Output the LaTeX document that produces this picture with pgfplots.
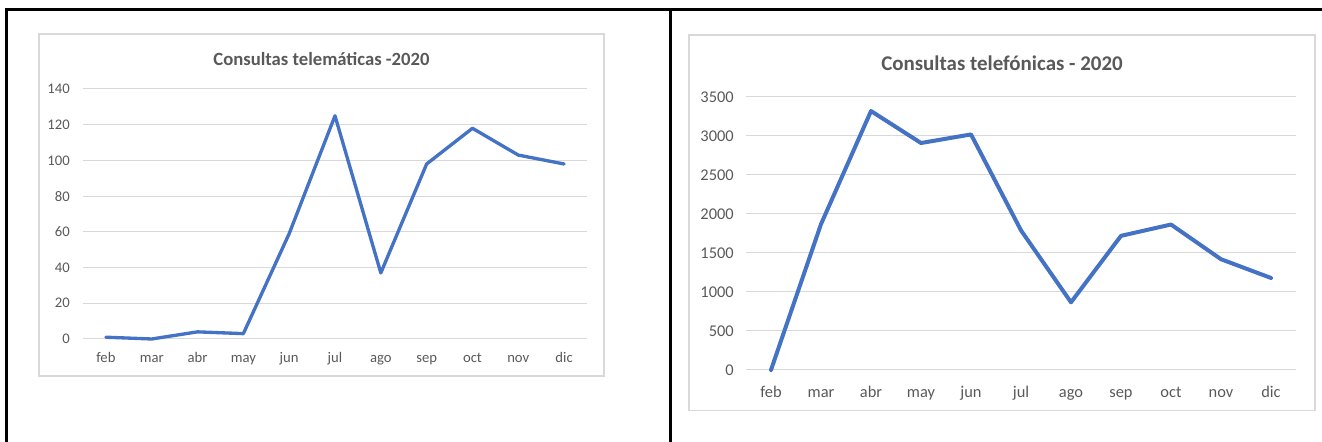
\documentclass[border=0pt]{standalone}
\usepackage{fontspec}
\setmainfont{Carlito}
\usepackage{pgfplots}
\pgfplotsset{compat=1.18}

\definecolor{lineblue}{HTML}{4472C4}
\definecolor{txtgray}{HTML}{595959}
\definecolor{gridgray}{HTML}{D9D9D9}

% estilo comun tipo Excel
\pgfplotsset{excel/.style={
  scale only axis, clip=false,
  xmin=-0.5, xmax=10.5,
  xtick={0,...,10},
  xticklabels={feb,mar,abr,may,jun,jul,ago,sep,oct,nov,dic},
  axis line style={draw=none},
  major tick length=0pt,
  ymajorgrids,
  grid style={gridgray, line width=0.75pt},
  tick label style={text=txtgray, inner sep=0pt},
  /pgf/number format/assume math mode=true,
  /pgf/number format/1000 sep={},
}}

\begin{document}
\begin{tikzpicture}
\path[use as bounding box] (0,0) rectangle (991.5pt,331.5pt);

% marco de la tabla
\draw[black, line width=2.25pt] (4.5pt,0pt) -- (4.5pt,324pt) -- (991.5pt,324pt);
\draw[black, line width=2.25pt] (502.9pt,0pt) -- (502.9pt,324pt);

% marcos de los graficos
\draw[gridgray, line width=1pt] (29.25pt,49.5pt) rectangle (453pt,306pt);
\draw[gridgray, line width=1pt] (516.75pt,23.6pt) rectangle (986.25pt,305.25pt);

% Consultas telematicas
\begin{axis}[excel,
  at={(62.25pt,77.25pt)}, anchor=south west,
  width=378pt, height=187.5pt,
  ymin=0, ymax=140, ytick={0,20,...,140},
  tick label style={font=\fontsize{11}{13}\selectfont},
  xticklabel style={anchor=base, yshift=-17.3pt},
  yticklabel style={anchor=east, xshift=-9.75pt},
  ]
  \addplot[lineblue, line width=2.5pt, line join=round, line cap=round]
    coordinates {(0,1) (1,0) (2,4) (3,3) (4,59) (5,125) (6,37) (7,98) (8,118) (9,103) (10,98)};
\end{axis}
\node[anchor=base, text=txtgray, font=\fontsize{14}{16}\selectfont\bfseries]
  at (241.1pt,282.4pt) {Consultas telemáticas -2020};

% Consultas telefonicas
\begin{axis}[excel,
  at={(559.5pt,54pt)}, anchor=south west,
  width=412.5pt, height=204.75pt,
  ymin=0, ymax=3500, ytick={0,500,...,3500},
  tick label style={font=\fontsize{12.3}{14}\selectfont},
  xticklabel style={anchor=base, yshift=-20.4pt},
  yticklabel style={anchor=east, xshift=-9pt},
  ]
  \addplot[lineblue, line width=3pt, line join=round, line cap=round]
    coordinates {(0,0) (1,1870) (2,3320) (3,2910) (4,3020) (5,1790) (6,868) (7,1720) (8,1865) (9,1420) (10,1180)};
\end{axis}
\node[anchor=base, text=txtgray, font=\fontsize{15.7}{18}\selectfont\bfseries]
  at (751.5pt,278.4pt) {Consultas telefónicas - 2020};
\end{tikzpicture}
\end{document}
